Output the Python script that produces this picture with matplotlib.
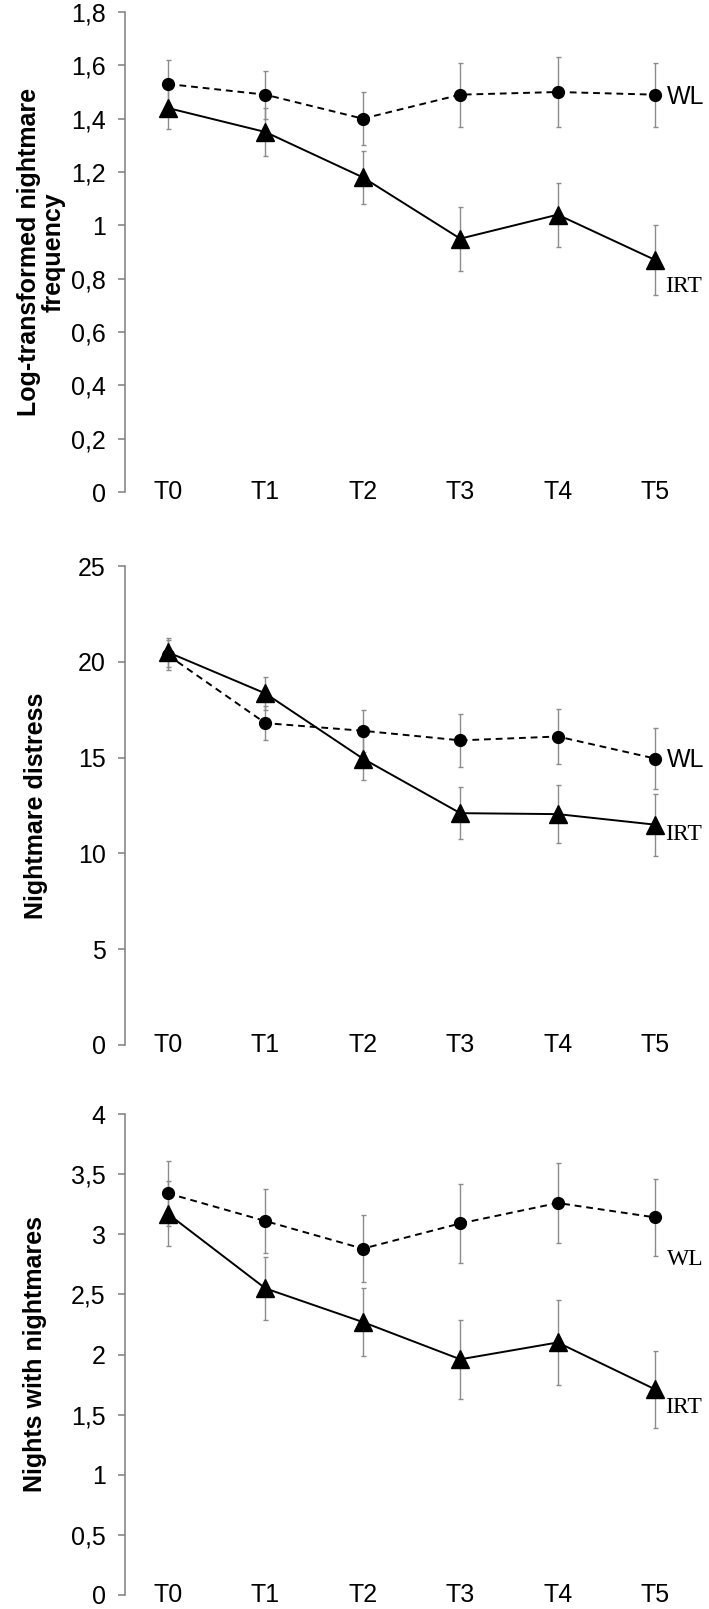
import numpy as np
import matplotlib
matplotlib.use('Agg')
import matplotlib.pyplot as plt
from matplotlib.ticker import FuncFormatter

plt.rcParams['font.family'] = ['Liberation Sans Narrow', 'Liberation Sans', 'DejaVu Sans']

# time points
times = ['T0', 'T1', 'T2', 'T3', 'T4', 'T5']

# log-transformed nightmare frequency
freq_wl = [1.53, 1.49, 1.40, 1.49, 1.50, 1.49]
freq_wl_err = [0.09, 0.09, 0.10, 0.12, 0.13, 0.12]
freq_irt = [1.44, 1.35, 1.18, 0.95, 1.04, 0.87]
freq_irt_err = [0.08, 0.09, 0.10, 0.12, 0.12, 0.13]

# nightmare distress
dist_wl = [20.35, 16.8, 16.4, 15.9, 16.1, 14.95]
dist_wl_err = [0.8, 0.9, 1.1, 1.37, 1.42, 1.6]
dist_irt = [20.5, 18.35, 14.95, 12.1, 12.05, 11.5]
dist_irt_err = [0.75, 0.85, 1.1, 1.35, 1.5, 1.62]

# nights with nightmares
nights_wl = [3.34, 3.11, 2.88, 3.09, 3.26, 3.14]
nights_wl_err = [0.27, 0.27, 0.28, 0.33, 0.33, 0.32]
nights_irt = [3.17, 2.55, 2.27, 1.96, 2.10, 1.71]
nights_irt_err = [0.27, 0.26, 0.28, 0.33, 0.35, 0.32]


def comma(v, pos):
    return f'{v:g}'.replace('.', ',')


W, H = 709, 1609
fig = plt.figure(figsize=(W / 100, H / 100), dpi=100)

sans = ['Liberation Sans Narrow', 'Liberation Sans']
serif = ['Liberation Serif']

# one dict per panel: data + where things go (pixels from top)
panels = [
    dict(top=12, bot=492, ymax=1.8, step=0.2,
         ylabel='Log-transformed nightmare\nfrequency', label_x=41,
         wl=freq_wl, wl_err=freq_wl_err, irt=freq_irt, irt_err=freq_irt_err,
         wl_y=1.48, irt_y=0.77, wl_font=sans, irt_font=serif),
    dict(top=566, bot=1045, ymax=25, step=5,
         ylabel='Nightmare distress', label_x=36,
         wl=dist_wl, wl_err=dist_wl_err, irt=dist_irt, irt_err=dist_irt_err,
         wl_y=14.9, irt_y=11.0, wl_font=sans, irt_font=serif),
    dict(top=1114, bot=1595, ymax=4, step=0.5,
         ylabel='Nights with nightmares', label_x=35,
         wl=nights_wl, wl_err=nights_wl_err, irt=nights_irt, irt_err=nights_irt_err,
         wl_y=2.79, irt_y=1.56, wl_font=serif, irt_font=serif),
]

x = np.arange(len(times))
left_px, width_px = 125, 575
xmin = -0.44
xmax = xmin + 5.9

for p in panels:
    ax = fig.add_axes([left_px / W, 1 - p['bot'] / H, width_px / W, (p['bot'] - p['top']) / H])

    ax.errorbar(x, p['wl'], yerr=p['wl_err'], fmt='none', ecolor='#8c8c8c',
                elinewidth=1.0, capsize=1.8, capthick=1.0, zorder=1)
    ax.errorbar(x, p['irt'], yerr=p['irt_err'], fmt='none', ecolor='#8c8c8c',
                elinewidth=1.0, capsize=1.8, capthick=1.0, zorder=1)
    ax.plot(x, p['wl'], color='black', ls=(0, (3.5, 2.5)), lw=1.4,
            marker='o', ms=8.5, zorder=3)
    ax.plot(x, p['irt'], color='black', ls='-', lw=1.4,
            marker='^', ms=13, zorder=4)

    wl_size = 18 if p['wl_font'] is sans else 17
    ax.text(5.12, p['wl_y'], 'WL', fontsize=wl_size, family=p['wl_font'],
            ha='left', va='center')
    ax.text(5.1, p['irt_y'], 'IRT', fontsize=17, family=p['irt_font'],
            ha='left', va='center')

    ax.set_xlim(xmin, xmax)
    ax.set_ylim(0, p['ymax'])
    ax.set_yticks(np.arange(0, p['ymax'] + p['step'] / 2, p['step']))
    ax.yaxis.set_major_formatter(FuncFormatter(comma))
    ax.set_xticks(x)
    ax.set_xticklabels(times, va='center')

    for s in ['top', 'right', 'bottom']:
        ax.spines[s].set_visible(False)
    ax.spines['left'].set_color('#7f7f7f')
    ax.spines['left'].set_linewidth(1.1)

    ax.tick_params(axis='y', direction='out', length=5, width=1.1,
                   color='#7f7f7f', pad=9, labelsize=18)
    ax.tick_params(axis='x', length=0, pad=0, labelsize=18)

    ax.text((p['label_x'] - left_px) / width_px, 0.5, p['ylabel'],
            transform=ax.transAxes, rotation=90, ha='center', va='center',
            fontsize=18, fontweight='bold', family=['Liberation Sans'],
            linespacing=1.05)

fig.savefig('out.png', dpi=100)
